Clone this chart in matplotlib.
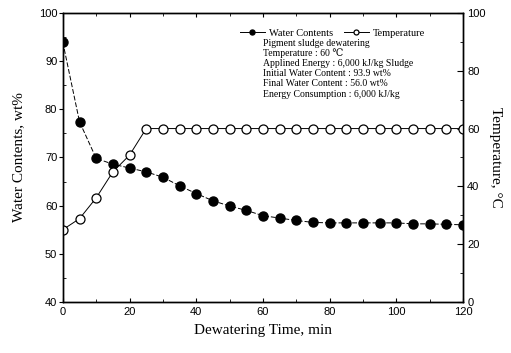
import matplotlib
matplotlib.use("Agg")
import matplotlib.pyplot as plt
from matplotlib.ticker import MultipleLocator

# Dewatering time (min)
time = [0, 5, 10, 15, 20, 25, 30, 35, 40, 45, 50, 55, 60, 65, 70, 75,
        80, 85, 90, 95, 100, 105, 110, 115, 120]

# Water contents, wt% (left axis)
water = [93.9, 77.4, 69.8, 68.6, 67.8, 67.0, 65.9, 64.1, 62.5, 61.0, 59.9, 59.0,
         57.9, 57.4, 56.9, 56.5, 56.4, 56.4, 56.4, 56.4, 56.4, 56.2, 56.2, 56.1, 56.0]

# Temperature, C (right axis)
temp = [25.0, 28.8, 36.0, 45.0, 50.8, 60, 60, 60, 60, 60, 60, 60, 60, 60, 60, 60,
        60, 60, 60, 60, 60, 60, 60, 60, 60]

notes = [
    "Pigment sludge dewatering",
    "Temperature : 60 \u2103",
    "Applined Energy : 6,000 kJ/kg Sludge",
    "Initial Water Content : 93.9 wt%",
    "Final Water Content : 56.0 wt%",
    "Energy Consumption : 6,000 kJ/kg",
]

SERIF = ["Liberation Serif", "DejaVu Serif", "DejaVu Sans", "Noto Sans CJK SC"]
SANS = "Liberation Sans"

fig = plt.figure(figsize=(5.11, 3.53), dpi=100)
ax = fig.add_axes([0.123, 0.145, 0.783, 0.818])
ax2 = ax.twinx()

l1, = ax.plot(time, water, color="black", lw=0.7, ls=(0, (5, 2)),
              marker="o", ms=6.5, mfc="black", mec="black", label="Water Contents")
l2, = ax2.plot(time, temp, color="black", lw=0.7, ls="-",
               marker="o", ms=6.5, mfc="white", mec="black", mew=0.9,
               label="Temperature")

ax.set_xlim(0, 120)
ax.set_ylim(40, 100)
ax2.set_ylim(0, 100)

ax.xaxis.set_major_locator(MultipleLocator(20))
ax.xaxis.set_minor_locator(MultipleLocator(10))
ax.yaxis.set_major_locator(MultipleLocator(10))
ax.yaxis.set_minor_locator(MultipleLocator(5))
ax2.yaxis.set_major_locator(MultipleLocator(20))
ax2.yaxis.set_minor_locator(MultipleLocator(10))

ax.tick_params(axis="x", which="both", direction="in", top=True, labelsize=8,
               length=3, pad=4)
ax.tick_params(axis="x", which="minor", length=2)
ax.tick_params(axis="y", which="major", direction="out", length=3, labelsize=8, pad=1)
ax.tick_params(axis="y", which="minor", direction="in", length=2)
ax2.tick_params(axis="y", which="major", direction="in", length=4, labelsize=8, pad=3)
ax2.tick_params(axis="y", which="minor", direction="in", length=2)
for lab in ax.get_xticklabels() + ax.get_yticklabels() + ax2.get_yticklabels():
    lab.set_fontfamily(SANS)
# lift the right-axis "0" a touch so it clears the "120" below it
ax2.get_yticklabels()[0].set_va("bottom")

for a in (ax, ax2):
    for s in a.spines.values():
        s.set_linewidth(1.0)

ax.set_xlabel("Dewatering Time, min", family=SERIF, fontsize=11, labelpad=5)
ax.set_ylabel("Water Contents, wt%", family=SERIF, fontsize=11, labelpad=10)
ax2.set_ylabel("Temperature, \u00b0C", family=SERIF, fontsize=11,
               rotation=270, labelpad=12)

leg = ax.legend(handles=[l1, l2], loc="center left", bbox_to_anchor=(0.4425, 0.931),
                ncol=2, frameon=False, prop={"family": SERIF, "size": 7.5},
                handlelength=2.4, handletextpad=0.4, columnspacing=1.0,
                borderaxespad=0, borderpad=0, markerscale=0.55)
# legend sample for water is drawn solid in the original
leg.get_lines()[0].set_linestyle("-")

y0 = 0.896
for i, line in enumerate(notes):
    ax.text(0.5, y0 - i * 0.0353, line, transform=ax.transAxes,
            family=SERIF, fontsize=7, ha="left", va="center")

fig.savefig("out.png", dpi=100)
